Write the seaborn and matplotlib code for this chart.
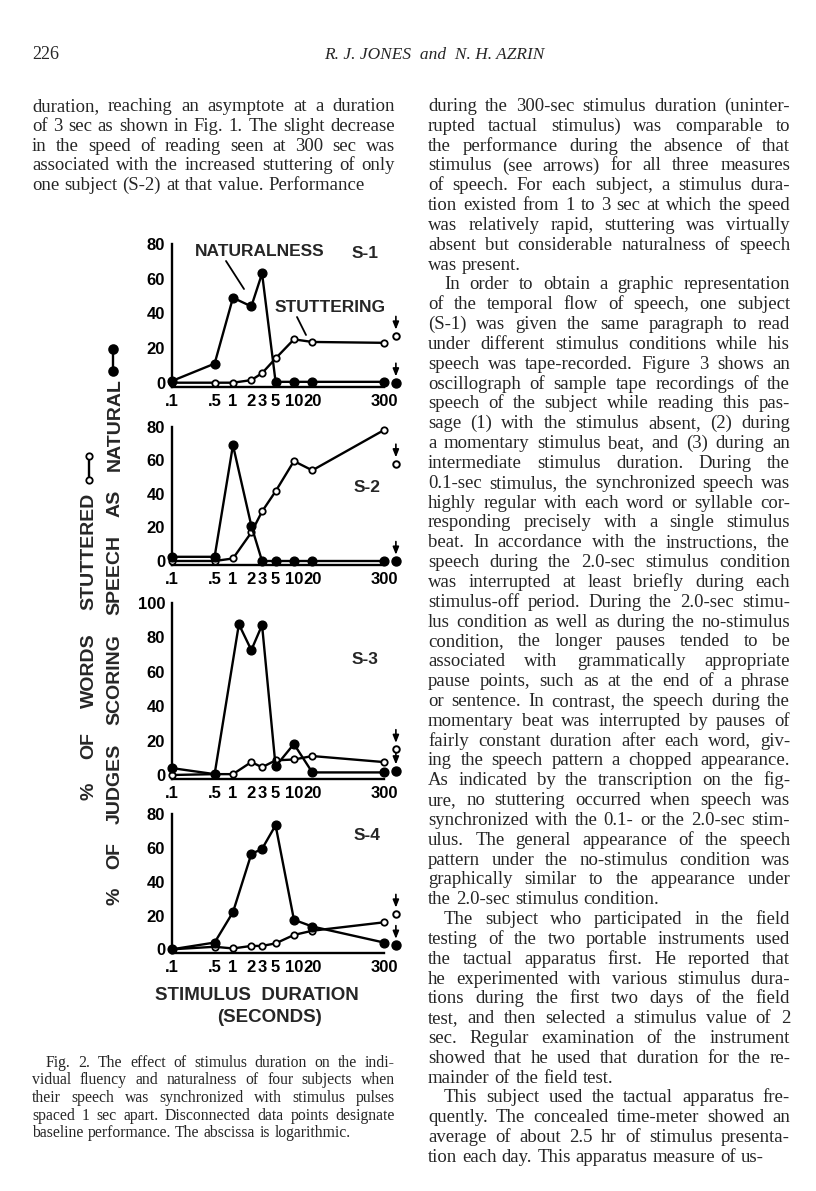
import matplotlib
matplotlib.use("Agg")
import matplotlib.pyplot as plt
import seaborn as sns
from matplotlib.lines import Line2D

# values (percent)
durations = [0.1, 0.5, 1, 2, 3, 5, 10, 20, 300]
s3_natural_durations = [0.1, 0.5, 1.25, 2, 3, 5, 10, 20, 300]
tick_labels = [".1", ".5", "1", "2", "3", "5", "10", "20", "300"]

s1_natural = [1, 11, 49, 44, 63, 0.5, 0.5, 0.5, 0.5]
s1_stutter = [0, 0, 0, 1.5, 5.5, 14, 25, 23.5, 23]
s2_natural = [2.5, 2.5, 69, 21, 0, 0, 0, 0, 0]
s2_stutter = [0, 0, 1.5, 17, 29.5, 41.5, 59.5, 54, 78]
s3_natural = [4, 0.5, 87.5, 72.5, 87, 5, 18, 1.5, 1.5]
s3_stutter = [0, 0.5, 0.5, 7.5, 4.5, 8.5, 9, 11, 7.5]
s4_natural = [0, 4, 22, 56.5, 59.5, 73.5, 17.5, 13.5, 4]
s4_stutter = [0, 1.5, 0.5, 2, 2, 3.5, 8.5, 11, 16]

subjects = ["S-1", "S-2", "S-3", "S-4"]
baseline_x = 470          # disconnected baseline points, right of the 300 tick
baseline_stutter = [27, 58, 15, 21]
baseline_natural = [0, 0, 2.5, 2.5]

outer_title = ["%", "OF", "WORDS", "STUTTERED"]
inner_title = ["%", "OF", "JUDGES", "SCORING", "SPEECH", "AS", "NATURAL"]

left_top_lines = [
    "duration, reaching an asymptote at a duration",
    "of 3 sec as shown in Fig. 1. The slight decrease",
    "in the speed of reading seen at 300 sec was",
    "associated with the increased stuttering of only",
    "one subject (S-2) at that value. Performance",
]
right_lines = [
    "during the 300-sec stimulus duration (uninter-",
    "rupted tactual stimulus) was comparable to",
    "the performance during the absence of that",
    "stimulus (see arrows) for all three measures",
    "of speech. For each subject, a stimulus dura-",
    "tion existed from 1 to 3 sec at which the speed",
    "was relatively rapid, stuttering was virtually",
    "absent but considerable naturalness of speech",
    "was present.",
    "\tIn order to obtain a graphic representation",
    "of the temporal flow of speech, one subject",
    "(S-1) was given the same paragraph to read",
    "under different stimulus conditions while his",
    "speech was tape-recorded. Figure 3 shows an",
    "oscillograph of sample tape recordings of the",
    "speech of the subject while reading this pas-",
    "sage (1) with the stimulus absent, (2) during",
    "a momentary stimulus beat, and (3) during an",
    "intermediate stimulus duration. During the",
    "0.1-sec stimulus, the synchronized speech was",
    "highly regular with each word or syllable cor-",
    "responding precisely with a single stimulus",
    "beat. In accordance with the instructions, the",
    "speech during the 2.0-sec stimulus condition",
    "was interrupted at least briefly during each",
    "stimulus-off period. During the 2.0-sec stimu-",
    "lus condition as well as during the no-stimulus",
    "condition, the longer pauses tended to be",
    "associated with grammatically appropriate",
    "pause points, such as at the end of a phrase",
    "or sentence. In contrast, the speech during the",
    "momentary beat was interrupted by pauses of",
    "fairly constant duration after each word, giv-",
    "ing the speech pattern a chopped appearance.",
    "As indicated by the transcription on the fig-",
    "ure, no stuttering occurred when speech was",
    "synchronized with the 0.1- or the 2.0-sec stim-",
    "ulus. The general appearance of the speech",
    "pattern under the no-stimulus condition was",
    "graphically similar to the appearance under",
    "the 2.0-sec stimulus condition.",
    "\tThe subject who participated in the field",
    "testing of the two portable instruments used",
    "the tactual apparatus first. He reported that",
    "he experimented with various stimulus dura-",
    "tions during the first two days of the field",
    "test, and then selected a stimulus value of 2",
    "sec. Regular examination of the instrument",
    "showed that he used that duration for the re-",
    "mainder of the field test.",
    "\tThis subject used the tactual apparatus fre-",
    "quently. The concealed time-meter showed an",
    "average of about 2.5 hr of stimulus presenta-",
    "tion each day. This apparatus measure of us-",
]
caption_lines = [
    "\tFig. 2. The effect of stimulus duration on the indi-",
    "vidual fluency and naturalness of four subjects when",
    "their speech was synchronized with stimulus pulses",
    "spaced 1 sec apart. Disconnected data points designate",
    "baseline performance. The abscissa is logarithmic.",
]

W, H = 816, 1191
sns.set_style("white")
plt.rcParams["font.family"] = ["Liberation Sans", "DejaVu Sans"]

fig = plt.figure(figsize=(W / 100, H / 100), dpi=100)
renderer = fig.canvas.get_renderer()


def fx(x):
    return x / W


def fy(y):
    return 1 - y / H


def text_block(lines, x0, x1, y_first, step, size, indent):
    # justified serif column, one text object per word
    for i, raw in enumerate(lines):
        start = x0 + (indent if raw.startswith("\t") else 0)
        words = raw.strip().split()
        last = (i == len(lines) - 1 or lines[i + 1].startswith("\t")
                or raw.endswith(".") and len(words) < 5)
        y = y_first + i * step
        items = [fig.text(0, fy(y), w, fontsize=size, family="Liberation Serif",
                          va="baseline") for w in words]
        widths = [t.get_window_extent(renderer).width for t in items]
        if len(words) > 1 and not last:
            gap = max(2.5, (x1 - start - sum(widths)) / (len(words) - 1))
        else:
            gap = size * 100 / 72 * 0.27
        x = start
        for t, w in zip(items, widths):
            t.set_x(fx(x))
            x += w + gap


def vertical_title(words, x, y_bottom, y_top, size):
    # rotated title spread between two pixel rows
    items = [fig.text(fx(x), 0, w, fontsize=size, fontweight="bold", rotation=90,
                      ha="center", va="bottom") for w in words]
    lengths = [t.get_window_extent(renderer).height for t in items]
    gap = (y_bottom - y_top - sum(lengths)) / (len(words) - 1)
    y = y_bottom
    for t, h in zip(items, lengths):
        t.set_y(fy(y))
        y -= h + gap


# page header and running text
fig.text(fx(32), fy(59), "226", fontsize=13, family="Liberation Serif", va="baseline")
fig.text(fx(434), fy(59), "R. J. JONES  and  N. H. AZRIN", fontsize=12.5,
         family="Liberation Serif", style="italic", ha="center", va="baseline")
text_block(left_top_lines, 32, 395, 111, 19.83, 13.5, 0)
text_block(right_lines, 428, 790, 111, 19.83, 13.5, 16)
text_block(caption_lines, 32, 395, 1067, 17.5, 11.3, 14)

# panels: pixel row of value 0, pixel row of top tick, top tick value
zero_px = [382.7, 561, 775, 949.3]
top_px = [244, 426.7, 602.7, 814.3]
ymax = [80, 80, 100, 80]
label_pos = [(365, 254), (367, 488), (365, 659), (367, 835)]

natural = [s1_natural, s2_natural, s3_natural, s4_natural]
stutter = [s1_stutter, s2_stutter, s3_stutter, s4_stutter]
natural_x = [durations, durations, s3_natural_durations, durations]

for k in range(4):
    ppu = (zero_px[k] - top_px[k]) / ymax[k]
    ymin = -4 / ppu
    ybot = zero_px[k] + 4
    ax = fig.add_axes([fx(172), fy(ybot), 212 / W, (ybot - top_px[k]) / H])
    ax.set_xscale("log")

    sns.lineplot(x=durations, y=stutter[k], ax=ax, color="black", lw=1.7,
                 marker="o", markersize=4.6, markerfacecolor="white",
                 markeredgecolor="black", markeredgewidth=1.3,
                 estimator=None, sort=False, clip_on=False, zorder=3)
    sns.lineplot(x=natural_x[k], y=natural[k], ax=ax, color="black", lw=1.7,
                 marker="o", markersize=6.3, markerfacecolor="black",
                 markeredgecolor="black", markeredgewidth=1,
                 estimator=None, sort=False, clip_on=False, zorder=4)

    sns.scatterplot(x=[baseline_x], y=[baseline_stutter[k]], ax=ax, s=22,
                    color="white", edgecolor="black", linewidth=1.4,
                    clip_on=False, zorder=5)
    sns.scatterplot(x=[baseline_x], y=[baseline_natural[k]], ax=ax, s=42,
                    color="black", edgecolor="black", linewidth=1,
                    clip_on=False, zorder=5)
    for val in (baseline_stutter[k], baseline_natural[k]):
        ax.annotate("", xy=(baseline_x, val), xytext=(0, 14),
                    textcoords="offset points", annotation_clip=False,
                    arrowprops=dict(arrowstyle="-|>,head_length=0.45,head_width=0.18",
                                    color="black", lw=1.2, shrinkA=0, shrinkB=4.5))

    ax.set_xlim(0.1, 300)
    ax.set_ylim(ymin, ymax[k])
    ax.minorticks_off()
    ax.set_xticks(durations, tick_labels, fontsize=12, fontweight="bold")
    ax.set_yticks(range(0, ymax[k] + 1, 20), [str(v) for v in range(0, ymax[k] + 1, 20)],
                  fontsize=12, fontweight="bold")
    ax.tick_params(axis="both", direction="out", length=4, width=1.5, pad=1,
                   color="black", labelcolor="black")
    ax.set_xlabel("")
    ax.set_ylabel("")
    if ax.get_legend():
        ax.get_legend().remove()
    sns.despine(ax=ax)
    for side in ("left", "bottom"):
        ax.spines[side].set_linewidth(1.7)
        ax.spines[side].set_color("black")
    ax.patch.set_alpha(0)

    fig.text(fx(label_pos[k][0]), fy(label_pos[k][1]), subjects[k], fontsize=12.5,
             fontweight="bold", ha="center", va="center")

# curve labels with pointer lines on the first panel
fig.text(fx(260), fy(252), "NATURALNESS", fontsize=12.5, fontweight="bold",
         ha="center", va="center")
fig.text(fx(330), fy(308), "STUTTERING", fontsize=12.5, fontweight="bold",
         ha="center", va="center")
for (xa, ya, xb, yb) in [(226, 261, 244, 289), (297, 317, 306, 335)]:
    fig.add_artist(Line2D([fx(xa), fx(xb)], [fy(ya), fy(yb)],
                          transform=fig.transFigure, color="black", lw=1.3))

# shared axis titles
fig.text(fx(257), fy(996), "STIMULUS  DURATION", fontsize=13.5, fontweight="bold",
         ha="center", va="center")
fig.text(fx(270), fy(1017), "(SECONDS)", fontsize=13.5, fontweight="bold",
         ha="center", va="center")

vertical_title(outer_title, 89, 800, 493, 14)
vertical_title(inner_title, 115, 905, 378, 14)

# key symbols above each rotated title
for xc, y0, y1, face, size in [(89, 456, 480, "white", 4.6), (113, 349, 371, "black", 6.3)]:
    fig.add_artist(Line2D([fx(xc), fx(xc)], [fy(y0), fy(y1)],
                          transform=fig.transFigure, color="black", lw=1.7,
                          marker="o", markersize=size, markerfacecolor=face,
                          markeredgecolor="black", markeredgewidth=1.3))

fig.savefig("out.png", dpi=100, facecolor="white")
